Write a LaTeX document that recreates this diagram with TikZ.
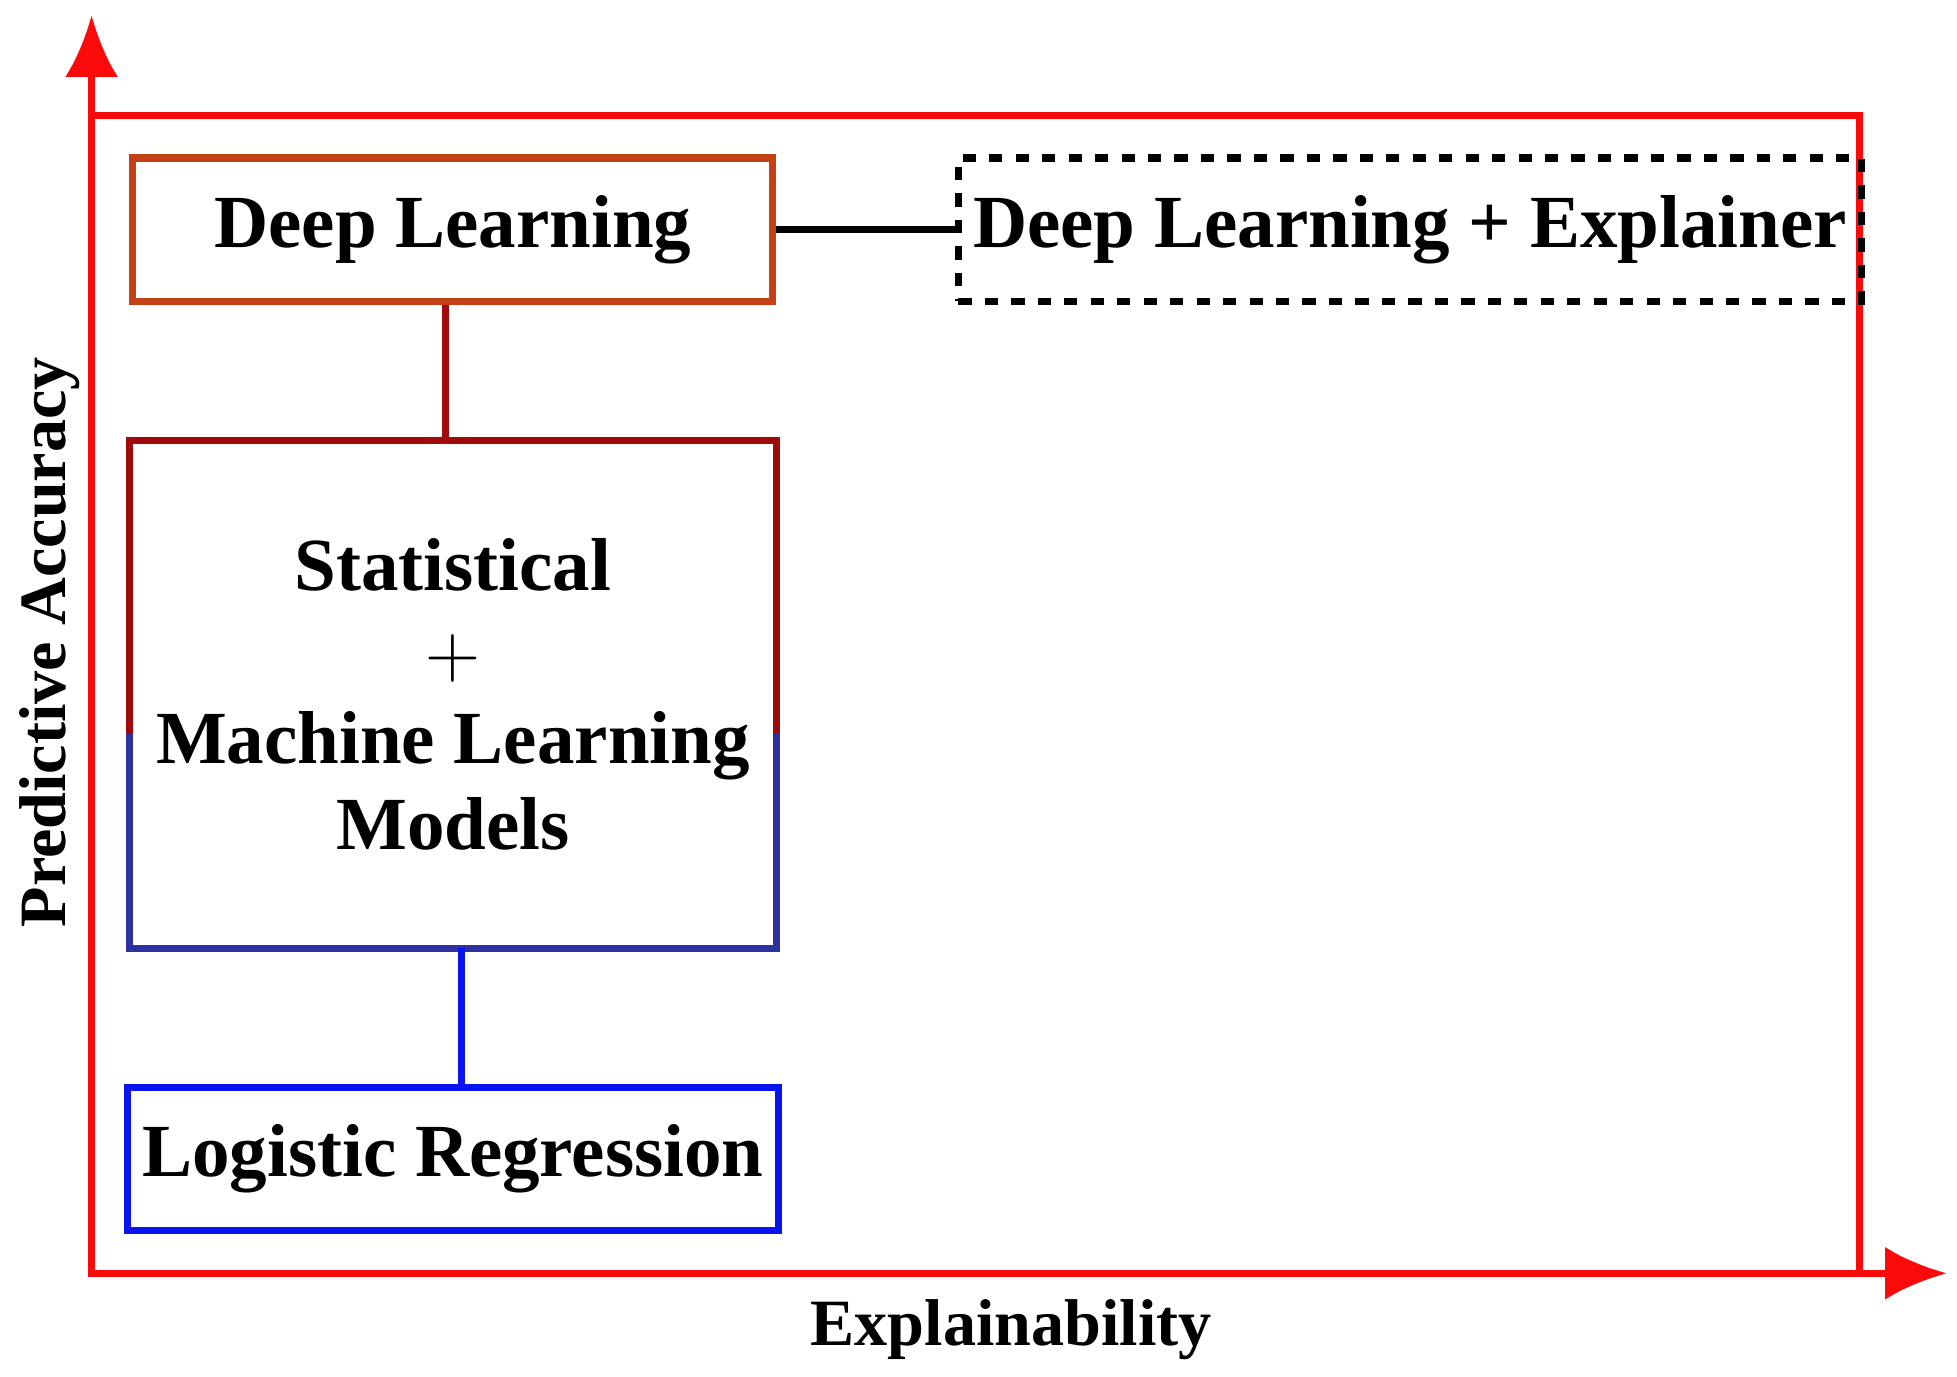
\documentclass[tikz,border=0pt]{standalone}
\usepackage{fontspec}
\setmainfont{Liberation Serif}
\usetikzlibrary{arrows.meta, positioning}
\definecolor{axisred}{RGB}{250,10,10}
\definecolor{dlbrown}{RGB}{195,65,20}
\definecolor{darkred}{RGB}{160,10,10}
\definecolor{midblue}{RGB}{45,50,160}
\definecolor{lrblue}{RGB}{10,20,240}
\begin{document}
\begin{tikzpicture}[x=0.01cm, y=-0.01cm,
        % Kaestchen
        model/.style={
                rectangle,
                minimum width=5.1cm,
                minimum height=1.14cm,
                align=center,
                font=\bfseries\fontsize{17}{19.5}\selectfont,
                line width=1.6pt
            },
        % Verbindungen
        link/.style={line width=1.6pt},
        % Achsen
        axis/.style={-{Latex[length=14pt,width=12pt]}, line width=1.6pt, color=axisred},
        axislabel/.style={font=\bfseries\fontsize{15}{17}\selectfont}
    ]
    \useasboundingbox (0,0) rectangle (1560,1097);

    % Achsen und Rahmen
    \coordinate (origin) at (73,1015);
    \coordinate (ytop) at (73,12);
    \coordinate (xend) at (1552,1015);
    \draw[axis] (origin) -- (ytop);
    \draw[axis] (origin) -- (xend);
    \draw[line width=1.6pt, axisred] (73,92) rectangle (1482,1015);

    \node[axislabel] (xlabel) at (806,1060) {Explainability};
    \node[axislabel, rotate=90] (ylabel) at (40,512) {Predictive Accuracy};

    % Modelle
    \node[model, draw=dlbrown] (dl) at (361,183) {Deep Learning};
    \node[model, draw=black, dashed, minimum width=6.8cm] (dlx) at (1124,183) {Deep Learning + Explainer};
    \node[model, minimum height=3.99cm] (stat) at (361,553.5)
        {Statistical\\$+$\\Machine Learning\\Models};
    \node[model, draw=lrblue] (lr) at (361,924) {Logistic Regression};

    % zweifarbiger Rand
    \draw[link, darkred] (stat.west |- 0,585) -- (stat.north west) -- (stat.north east) -- (stat.east |- 0,585);
    \draw[link, midblue] (stat.west |- 0,585) -- (stat.south west) -- (stat.south east) -- (stat.east |- 0,585);

    % Verbindungen
    \draw[link, black] (dl.east) -- (dlx.west);
    \draw[link, darkred] (dl.south -| 355,0) -- (stat.north -| 355,0);
    \draw[link, lrblue] (stat.south -| 368,0) -- (lr.north -| 368,0);

\end{tikzpicture}
\end{document}
